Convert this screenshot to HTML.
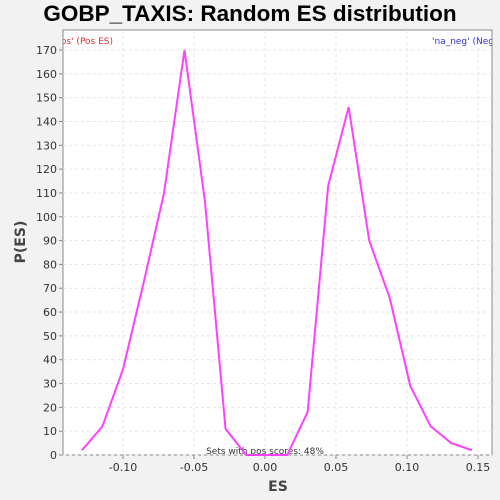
<!DOCTYPE html>
<html><head><meta charset="utf-8"><style>
body{margin:0;background:#f2f2f2;}
svg{display:block;font-family:"DejaVu Sans","Liberation Sans",sans-serif;}
</style></head><body>
<svg id="chart" width="500" height="500">
<rect width="500" height="500" fill="#f2f2f2"/>
<text x="250" y="21" text-anchor="middle" font-size="22.5" font-weight="bold" fill="#000" font-family="Liberation Sans, sans-serif">GOBP_TAXIS: Random ES distribution</text>
<defs><clipPath id="pc"><rect x="63" y="30" width="429" height="425"/></clipPath></defs>
<rect x="63" y="30" width="429" height="425" fill="#fff" stroke="#888"/>
<g id="grid"></g>
<g id="axes"></g>
<g clip-path="url(#pc)">
<text x="37" y="44" font-size="9" fill="#e03030">'na_pos' (Pos ES)</text>
<text x="432" y="44" font-size="9" fill="#3030d0">'na_neg' (Neg ES)</text>
</g>
<text x="265" y="454" text-anchor="middle" font-size="9" fill="#333">Sets with pos scores: 48%</text>
<polyline id="line" fill="none" stroke="#ff40ff" stroke-width="2"/>
<text x="278" y="491" text-anchor="middle" font-size="14" font-weight="bold" fill="#444">ES</text>
<text transform="translate(25,242) rotate(-90)" text-anchor="middle" font-size="14" font-weight="bold" fill="#444">P(ES)</text>
</svg>
<script>
const esValues=[-0.1289,-0.1145,-0.1000,-0.0856,-0.0711,-0.0567,-0.0422,-0.0278,-0.0133,0.0011,0.0156,0.0300,0.0445,0.0589,0.0734,0.0878,0.1023,0.1167,0.1312,0.1456];
const pValues=[2,12,36,72,110,170,106,11,0,0,0,18,113,146,90,66,29,12,5,2];
const xTicks=[-0.10,-0.05,0.00,0.05,0.10,0.15];
const xTickLabels=["-0.10","-0.05","0.00","0.05","0.10","0.15"];
const yTicks=[0,10,20,30,40,50,60,70,80,90,100,110,120,130,140,150,160,170];
const xs=v=>265+v*1420;
const ys=v=>455-v*(405/170);
const ns="http://www.w3.org/2000/svg";
const grid=document.getElementById('grid'),axes=document.getElementById('axes');
function mk(tag,attrs,parent){const e=document.createElementNS(ns,tag);for(const k in attrs)e.setAttribute(k,attrs[k]);parent.appendChild(e);return e;}
xTicks.forEach((t,i)=>{const x=xs(t);
const g=mk('line',{x1:x,x2:x,y1:30,y2:455,stroke:'#e4e4e4','stroke-dasharray':'3,3'},grid);


const tk=mk('line',{x1:x,x2:x,y1:455,y2:459,stroke:'#888'},axes);


const tx=mk('text',{x:x,y:471,'text-anchor':'middle','font-size':'11',fill:'#333'},axes);tx.textContent=xTickLabels[i];

});
yTicks.forEach(t=>{const y=ys(t);
const g=mk('line',{x1:63,x2:492,y1:y,y2:y,stroke:'#e4e4e4','stroke-dasharray':'3,3'},grid);


const tk=mk('line',{x1:59,x2:63,y1:y,y2:y,stroke:'#888'},axes);


const tx=mk('text',{x:57,y:y+4,'text-anchor':'end','font-size':'11',fill:'#333'},axes);tx.textContent=t;

});
document.getElementById('line').setAttribute('points',esValues.map((v,i)=>xs(v)+','+ys(pValues[i])).join(' '));
</script>
</body></html>
